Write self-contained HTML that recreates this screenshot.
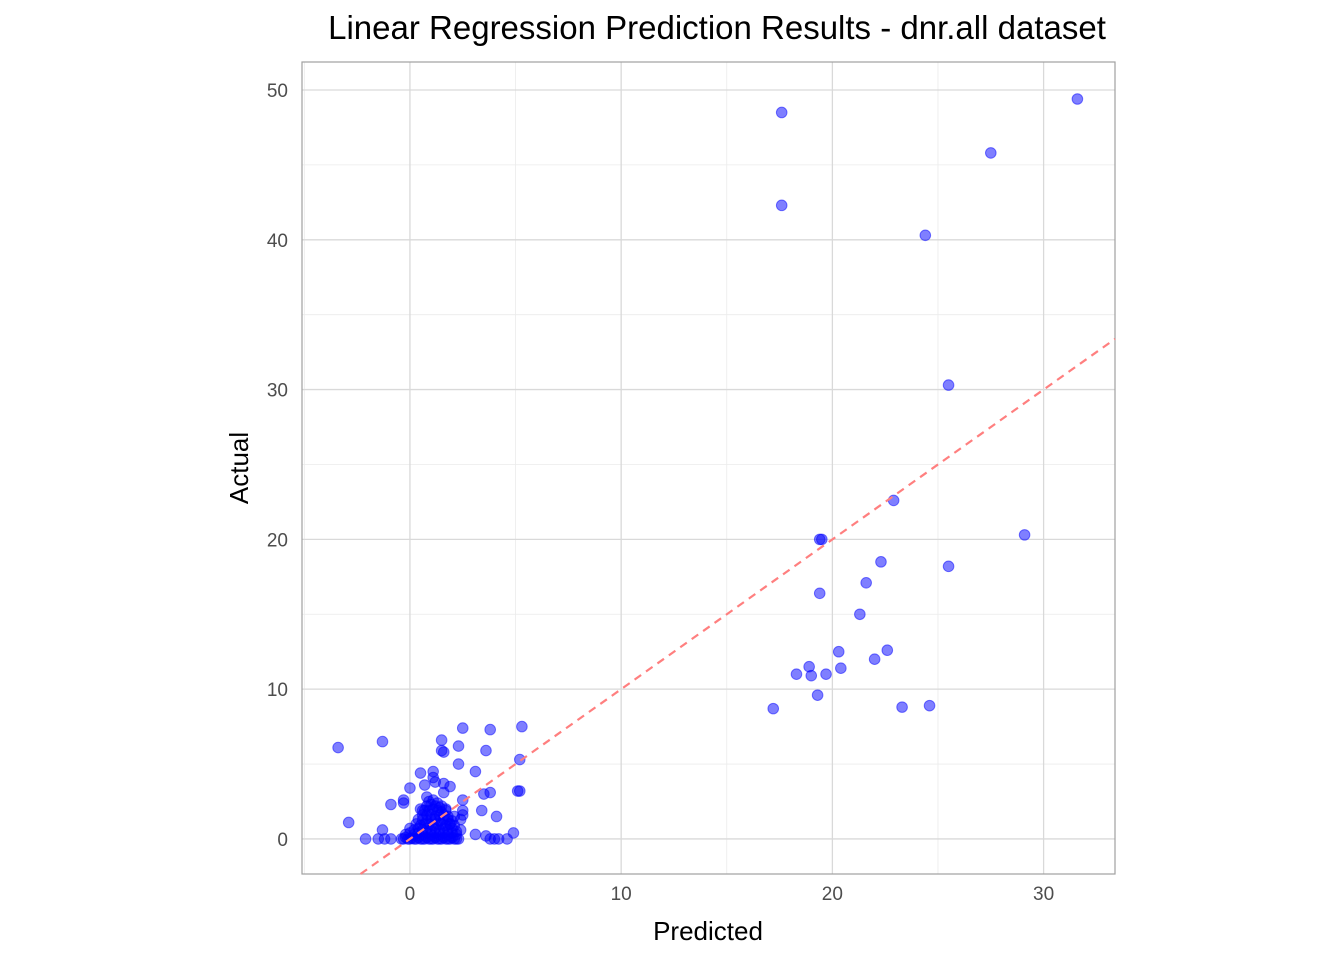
<!DOCTYPE html>
<html><head><meta charset="utf-8"><style>
body{margin:0;background:#fff;font-family:"Liberation Sans",Arial,sans-serif;}
</style></head><body>
<svg id="chart" width="1344" height="960" xmlns="http://www.w3.org/2000/svg">
<text x="717" y="39" font-size="33" text-anchor="middle" fill="#000">Linear Regression Prediction Results - dnr.all dataset</text>
<g id="grid"></g>
<g id="pts"></g>
<rect x="302" y="62" width="813" height="812" fill="none" stroke="#a0a0a0" stroke-width="1.2"/>
<text x="708" y="940" font-size="26" text-anchor="middle">Predicted</text>
<text transform="translate(248,468) rotate(-90)" font-size="26" text-anchor="middle">Actual</text>
</svg>
<script>
const xTicks=[0,10,20,30];
const yTicks=[0,10,20,30,40,50];
const outerX=[-3.4,-2.9,-1.3,1.5,1.5,1.6,2.3,2.5,3.8,5.3,3.6,2.3,5.2,3.1,1.1,0.5,1.1,1.2,0.7,1.6,1.9,0,1.6,3.5,3.8,5.1,5.2,-0.3,-0.3,-0.9,2.5,3.4,4.1,-1.3,-2.1,-1.5,-1.2,-0.9,3.1,3.6,3.8,4.0,4.2,4.6,4.9,2.4,2.4,2.5,2.5];
const outerY=[6.1,1.1,6.5,6.6,5.9,5.8,6.2,7.4,7.3,7.5,5.9,5.0,5.3,4.5,4.5,4.4,4.1,3.8,3.6,3.7,3.5,3.4,3.1,3.0,3.1,3.2,3.2,2.6,2.4,2.3,2.6,1.9,1.5,0.6,0,0,0,0,0.3,0.2,0,0,0,0,0.4,0.6,1.3,1.6,1.9];
const bigX=[17.6,17.6,31.6,27.5,24.4,25.5,22.9,29.1,19.4,19.5,22.3,25.5,21.6,19.4,21.3,20.3,22.6,22.0,18.9,20.4,18.3,19.0,19.7,19.3,17.2,23.3,24.6];
const bigY=[48.5,42.3,49.4,45.8,40.3,30.3,22.6,20.3,20.0,20.0,18.5,18.2,17.1,16.4,15.0,12.5,12.6,12.0,11.5,11.4,11.0,10.9,11.0,9.6,8.7,8.8,8.9];
const clusterX=[-0.4,-0.3,-0.2,-0.1,0,0.1,0.2,0.3,0.4,0.5,0.6,0.7,0.8,0.9,1.0,1.1,1.2,1.3,1.4,1.5,1.6,1.7,1.8,1.9,2.0,2.1,2.2,2.3,
 -0.2,0,0.2,0.4,0.6,0.8,1.0,1.2,1.4,1.6,1.8,2.0,2.2,
 0,0.2,0.4,0.6,0.8,1.0,1.2,1.4,1.6,1.8,2.0,2.2,
 0.3,0.5,0.7,0.9,1.1,1.3,1.5,1.7,1.9,2.1,
 0.4,0.6,0.8,1.0,1.2,1.4,1.6,1.8,2.0,
 0.6,0.8,1.0,1.2,1.4,1.6,1.8,
 0.7,0.9,1.1,1.3,1.5,1.7,
 0.8,1.0,1.2,1.4,0.9,1.1,1.3,0.6,1.9,2.1,0.5,0.8,1.5,1.7];
const clusterY=[0,0,0.1,0,0,0.05,0,0,0.1,0,0,0,0.1,0,0,0,0.1,0,0,0,0.1,0,0,0,0.1,0,0,0,
 0.3,0.4,0.3,0.4,0.3,0.4,0.3,0.4,0.3,0.4,0.3,0.4,0.3,
 0.7,0.6,0.7,0.6,0.7,0.6,0.7,0.6,0.7,0.6,0.7,0.5,
 1.0,0.9,1.0,1.0,0.9,1.0,1.0,0.9,1.0,0.9,
 1.3,1.3,1.2,1.3,1.3,1.2,1.3,1.3,1.2,
 1.6,1.6,1.6,1.5,1.6,1.6,1.5,
 1.9,1.9,2.0,1.9,1.8,1.9,
 2.2,2.3,2.2,2.1,2.5,2.6,2.4,1.9,1.0,1.5,2.0,2.8,2.2,2.0];
const X0=-5.11,X1=33.38,Y0=-2.34,Y1=51.87;
const PL=302,PR=1115,PT=62,PB=874;
const sx=v=>PL+(v-X0)/(X1-X0)*(PR-PL);
const sy=v=>PB-(v-Y0)/(Y1-Y0)*(PB-PT);
const NS="http://www.w3.org/2000/svg";
const grid=document.getElementById('grid'),pts=document.getElementById('pts'),svg=document.getElementById('chart');
function mk(t,a,p){const e=document.createElementNS(NS,t);for(const k in a)e.setAttribute(k,a[k]);p.appendChild(e);return e;}
for(let i=0;i<xTicks.length+1;i++){const v=-5+i*10;if(v+5>X1+5)break;const l=mk('line',{x1:sx(v),x2:sx(v),y1:PT,y2:PB,stroke:'#ebebeb','stroke-width':0.8},grid);

}
for(let i=0;i<yTicks.length;i++){const v=yTicks[i]+5;if(v>Y1)break;const l=mk('line',{x1:PL,x2:PR,y1:sy(v),y2:sy(v),stroke:'#ebebeb','stroke-width':0.8},grid);

}
xTicks.forEach(v=>{const l=mk('line',{x1:sx(v),x2:sx(v),y1:PT,y2:PB,stroke:'#d9d9d9','stroke-width':1.3},grid);


const t=mk('text',{x:sx(v),y:PB+26,'font-size':19,'text-anchor':'middle',fill:'#4d4d4d'},svg);t.textContent=v;

});
yTicks.forEach(v=>{const l=mk('line',{x1:PL,x2:PR,y1:sy(v),y2:sy(v),stroke:'#d9d9d9','stroke-width':1.3},grid);


const t=mk('text',{x:PL-14,y:sy(v)+7,'font-size':19,'text-anchor':'end',fill:'#4d4d4d'},svg);t.textContent=v;

});
function dot(x,y){const c=mk('circle',{cx:sx(x),cy:sy(y),r:5.3,fill:'rgba(0,0,255,0.5)',stroke:'rgba(0,0,255,0.5)','stroke-width':1},pts);

}
clusterX.forEach((x,i)=>dot(x,clusterY[i]));
outerX.forEach((x,i)=>dot(x,outerY[i]));
bigX.forEach((x,i)=>dot(x,bigY[i]));
const ln=mk('line',{x1:sx(Y0),y1:sy(Y0),x2:sx(X1),y2:sy(X1),stroke:'#ff7f7f','stroke-width':2.2,'stroke-dasharray':'8,6'},svg);


</script>
</body></html>
